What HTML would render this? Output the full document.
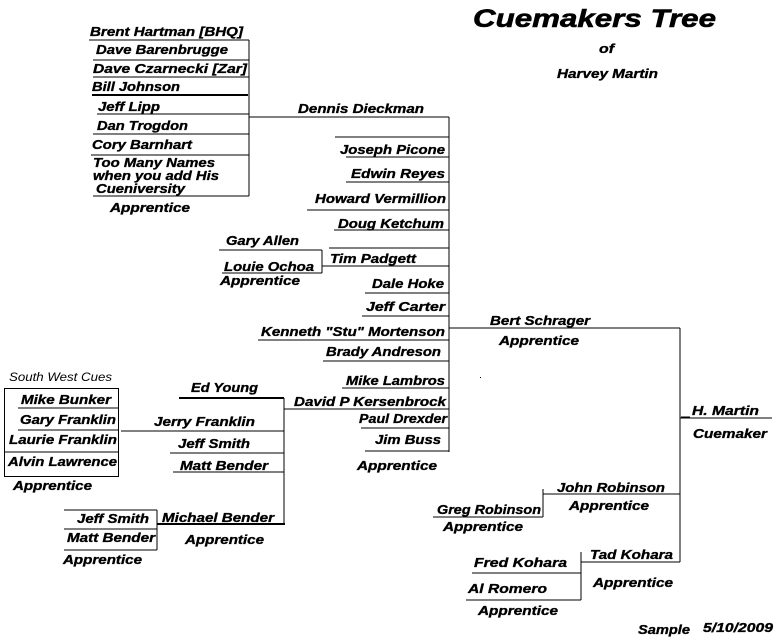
<!DOCTYPE html>
<html><head><meta charset="utf-8"><style>
html,body{margin:0;padding:0;background:#fff;width:776px;height:638px;overflow:hidden}
svg{display:block}
text{font-family:"Liberation Sans",sans-serif;font-weight:bold;font-style:italic;font-size:13px;fill:#000;stroke:#000;stroke-width:0.35}
</style></head><body>
<svg width="776" height="638" viewBox="0 0 776 638" xmlns="http://www.w3.org/2000/svg">
<g stroke="#000" stroke-width="1" fill="none" shape-rendering="crispEdges">
<line x1="249" y1="40" x2="249" y2="196"/>
<line x1="89" y1="40" x2="249" y2="40"/>
<line x1="93" y1="60" x2="249" y2="60"/>
<line x1="93" y1="77" x2="249" y2="77"/>
<line x1="92" y1="95" x2="248" y2="95" stroke-width="2"/>
<line x1="97" y1="114" x2="249" y2="114"/>
<line x1="93" y1="134" x2="249" y2="134"/>
<line x1="91" y1="155" x2="249" y2="155"/>
<line x1="93" y1="196" x2="249" y2="196"/>
<line x1="249" y1="117" x2="449" y2="117"/>
<line x1="449" y1="117" x2="449" y2="452"/>
<line x1="335" y1="137" x2="449" y2="137"/>
<line x1="346" y1="157" x2="449" y2="157"/>
<line x1="346" y1="182" x2="449" y2="182"/>
<line x1="307" y1="210" x2="449" y2="210"/>
<line x1="334" y1="230" x2="449" y2="230"/>
<line x1="329" y1="248" x2="449" y2="248"/>
<line x1="322" y1="266" x2="449" y2="266"/>
<line x1="365" y1="293" x2="449" y2="293"/>
<line x1="362" y1="316" x2="449" y2="316"/>
<line x1="258" y1="340" x2="449" y2="340"/>
<line x1="323" y1="361" x2="449" y2="361"/>
<line x1="342" y1="388" x2="449" y2="388"/>
<line x1="284" y1="409" x2="449" y2="409"/>
<line x1="361" y1="428" x2="449" y2="428"/>
<line x1="365" y1="451" x2="449" y2="451"/>
<line x1="219" y1="250" x2="322" y2="250"/>
<line x1="322" y1="250" x2="322" y2="273"/>
<line x1="222" y1="273" x2="322" y2="273"/>
<line x1="449" y1="328" x2="680" y2="328"/>
<line x1="680" y1="328" x2="680" y2="562"/>
<line x1="680" y1="418" x2="772" y2="418"/>
<line x1="543" y1="494" x2="680" y2="494"/>
<line x1="543" y1="489" x2="543" y2="517"/>
<line x1="433" y1="517" x2="543" y2="517"/>
<line x1="581" y1="562" x2="680" y2="562"/>
<line x1="581" y1="552" x2="581" y2="600"/>
<line x1="472" y1="573" x2="581" y2="573"/>
<line x1="466" y1="600" x2="581" y2="600"/>
<line x1="179" y1="398" x2="284" y2="398" stroke-width="2"/>
<line x1="284" y1="398" x2="284" y2="524"/>
<line x1="121" y1="431" x2="284" y2="431"/>
<line x1="170" y1="453" x2="284" y2="453"/>
<line x1="173" y1="472" x2="284" y2="472"/>
<line x1="157" y1="524" x2="285" y2="524" stroke-width="2"/>
<rect x="4.5" y="388.5" width="114" height="88"/>
<line x1="18" y1="408" x2="119" y2="408"/>
<line x1="18" y1="430" x2="119" y2="430"/>
<line x1="4" y1="452" x2="119" y2="452"/>
<line x1="64" y1="510" x2="157" y2="510"/>
<line x1="157" y1="510" x2="157" y2="550"/>
<line x1="64" y1="529" x2="157" y2="529"/>
<line x1="64" y1="550" x2="157" y2="550"/>
<line x1="681" y1="417" x2="690" y2="417"/>
</g>
<g>
<text x="473" y="27" style="font-size:25px;stroke-width:0.6" textLength="243" lengthAdjust="spacingAndGlyphs">Cuemakers Tree</text>
<text x="599" y="53" textLength="15" lengthAdjust="spacingAndGlyphs">of</text>
<text x="557" y="78" textLength="101" lengthAdjust="spacingAndGlyphs">Harvey Martin</text>
<text x="90" y="36" textLength="153" lengthAdjust="spacingAndGlyphs">Brent Hartman [BHQ]</text>
<text x="96" y="54" textLength="132" lengthAdjust="spacingAndGlyphs">Dave Barenbrugge</text>
<text x="93" y="73" textLength="154" lengthAdjust="spacingAndGlyphs">Dave Czarnecki  [Zar]</text>
<text x="92" y="91" textLength="88" lengthAdjust="spacingAndGlyphs">Bill Johnson</text>
<text x="98" y="111" textLength="62" lengthAdjust="spacingAndGlyphs">Jeff Lipp</text>
<text x="97" y="130" textLength="91" lengthAdjust="spacingAndGlyphs">Dan Trogdon</text>
<text x="92" y="149" textLength="100" lengthAdjust="spacingAndGlyphs">Cory Barnhart</text>
<text x="93" y="167" textLength="122" lengthAdjust="spacingAndGlyphs">Too Many Names</text>
<text x="93" y="180" textLength="126" lengthAdjust="spacingAndGlyphs">when you add His</text>
<text x="96" y="193" textLength="89" lengthAdjust="spacingAndGlyphs">Cueniversity</text>
<text x="110" y="212" textLength="80" lengthAdjust="spacingAndGlyphs">Apprentice</text>
<text x="298" y="113" textLength="126" lengthAdjust="spacingAndGlyphs">Dennis  Dieckman</text>
<text x="340" y="154" textLength="105" lengthAdjust="spacingAndGlyphs">Joseph Picone</text>
<text x="351" y="178" textLength="94" lengthAdjust="spacingAndGlyphs">Edwin  Reyes</text>
<text x="315" y="203" textLength="131" lengthAdjust="spacingAndGlyphs">Howard Vermillion</text>
<text x="338" y="228" textLength="106" lengthAdjust="spacingAndGlyphs">Doug Ketchum</text>
<text x="226" y="245" textLength="73" lengthAdjust="spacingAndGlyphs">Gary Allen</text>
<text x="330" y="263" textLength="86" lengthAdjust="spacingAndGlyphs">Tim Padgett</text>
<text x="224" y="271" textLength="90" lengthAdjust="spacingAndGlyphs">Louie  Ochoa</text>
<text x="220" y="285" textLength="80" lengthAdjust="spacingAndGlyphs">Apprentice</text>
<text x="372" y="288" textLength="72" lengthAdjust="spacingAndGlyphs">Dale Hoke</text>
<text x="366" y="311" textLength="79" lengthAdjust="spacingAndGlyphs">Jeff Carter</text>
<text x="261" y="336" textLength="184" lengthAdjust="spacingAndGlyphs">Kenneth "Stu" Mortenson</text>
<text x="490" y="325" textLength="100" lengthAdjust="spacingAndGlyphs">Bert Schrager</text>
<text x="326" y="356" textLength="115" lengthAdjust="spacingAndGlyphs">Brady Andreson</text>
<text x="499" y="345" textLength="80" lengthAdjust="spacingAndGlyphs">Apprentice</text>
<text x="9" y="381" style="font-weight:normal;font-size:12px;stroke:none" textLength="103" lengthAdjust="spacingAndGlyphs">South West Cues</text>
<text x="346" y="385" textLength="99" lengthAdjust="spacingAndGlyphs">Mike Lambros</text>
<text x="191" y="392" textLength="67" lengthAdjust="spacingAndGlyphs">Ed Young</text>
<text x="21" y="404" textLength="90" lengthAdjust="spacingAndGlyphs">Mike Bunker</text>
<text x="294" y="406" textLength="152" lengthAdjust="spacingAndGlyphs">David P Kersenbrock</text>
<text x="359" y="423" textLength="88" lengthAdjust="spacingAndGlyphs">Paul Drexder</text>
<text x="20" y="424" textLength="96" lengthAdjust="spacingAndGlyphs">Gary Franklin</text>
<text x="154" y="426" textLength="101" lengthAdjust="spacingAndGlyphs">Jerry Franklin</text>
<text x="692" y="415" textLength="67" lengthAdjust="spacingAndGlyphs">H. Martin</text>
<text x="9" y="444" textLength="108" lengthAdjust="spacingAndGlyphs">Laurie Franklin</text>
<text x="375" y="444" textLength="66" lengthAdjust="spacingAndGlyphs">Jim Buss</text>
<text x="693" y="438" textLength="74" lengthAdjust="spacingAndGlyphs">Cuemaker</text>
<text x="178" y="448" textLength="72" lengthAdjust="spacingAndGlyphs">Jeff Smith</text>
<text x="8" y="466" textLength="109" lengthAdjust="spacingAndGlyphs">Alvin Lawrence</text>
<text x="357" y="470" textLength="80" lengthAdjust="spacingAndGlyphs">Apprentice</text>
<text x="180" y="470" textLength="88" lengthAdjust="spacingAndGlyphs">Matt Bender</text>
<text x="13" y="490" textLength="79" lengthAdjust="spacingAndGlyphs">Apprentice</text>
<text x="557" y="492" textLength="108" lengthAdjust="spacingAndGlyphs">John Robinson</text>
<text x="569" y="510" textLength="80" lengthAdjust="spacingAndGlyphs">Apprentice</text>
<text x="437" y="514" textLength="104" lengthAdjust="spacingAndGlyphs">Greg Robinson</text>
<text x="162" y="522" textLength="112" lengthAdjust="spacingAndGlyphs">Michael Bender</text>
<text x="77" y="523" textLength="72" lengthAdjust="spacingAndGlyphs">Jeff Smith</text>
<text x="443" y="531" textLength="80" lengthAdjust="spacingAndGlyphs">Apprentice</text>
<text x="67" y="542" textLength="88" lengthAdjust="spacingAndGlyphs">Matt Bender</text>
<text x="185" y="544" textLength="79" lengthAdjust="spacingAndGlyphs">Apprentice</text>
<text x="590" y="559" textLength="83" lengthAdjust="spacingAndGlyphs">Tad Kohara</text>
<text x="63" y="564" textLength="79" lengthAdjust="spacingAndGlyphs">Apprentice</text>
<text x="474" y="567" textLength="93" lengthAdjust="spacingAndGlyphs">Fred  Kohara</text>
<text x="593" y="587" textLength="80" lengthAdjust="spacingAndGlyphs">Apprentice</text>
<text x="468" y="593" textLength="79" lengthAdjust="spacingAndGlyphs">Al  Romero</text>
<text x="478" y="615" textLength="80" lengthAdjust="spacingAndGlyphs">Apprentice</text>
<text x="638" y="634" textLength="52" lengthAdjust="spacingAndGlyphs">Sample</text>
<text x="703" y="632" textLength="70" lengthAdjust="spacingAndGlyphs">5/10/2009</text>
</g>
<rect x="480" y="377" width="1" height="1" fill="#000"/>
</svg>
</body></html>
